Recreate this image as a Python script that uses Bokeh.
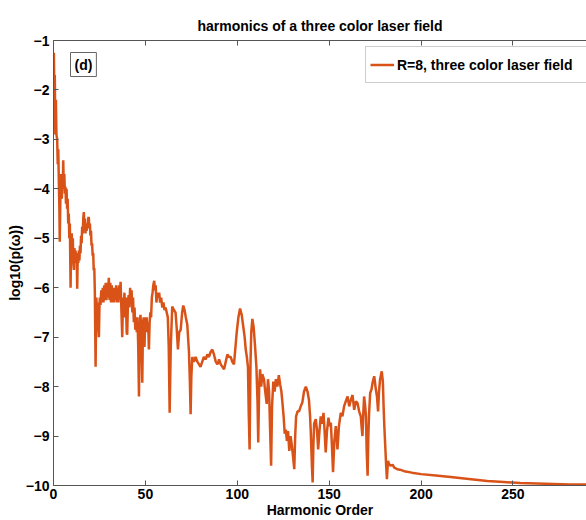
from bokeh.plotting import figure
from bokeh.models import FixedTicker, LinearAxis, Range1d, Legend, LegendItem, Label
from bokeh.embed import file_html
from bokeh.resources import INLINE

harmonic_order = [
    0.0, 0.2, 0.5, 0.7, 1.0, 1.3, 1.6, 2.0, 2.3, 2.6, 2.9, 3.2, 3.4, 3.7, 4.0, 4.2, 4.5, 4.8,
    5.0, 5.3, 5.6, 5.9, 6.2, 6.5, 6.8, 7.1, 7.4, 7.7, 8.0, 8.3, 8.6, 8.9, 9.3, 9.6, 9.9,
    10.2, 10.5, 10.8, 11.1, 11.4, 11.7, 12.0, 12.3, 12.6, 12.9, 13.2, 13.5, 13.8, 14.1, 14.4,
    14.7, 15.0, 15.3, 15.6, 15.9, 16.2, 16.5, 16.8, 17.1, 17.4, 17.7, 18.0, 18.3, 18.6, 18.9,
    19.2, 19.5, 19.8, 20.1, 20.4, 20.7, 21.0, 21.3, 21.6, 21.9, 22.2, 22.5, 22.9, 23.3, 23.7,
    24.1, 24.4, 24.7, 25.0, 25.2, 25.6, 26.0, 26.4, 26.8, 27.2, 27.6, 28.0, 28.4, 28.8, 29.2,
    29.6, 30.1, 30.5, 30.9, 31.3, 31.7, 32.1, 32.5, 32.9, 33.3, 33.7, 34.1, 34.5, 34.9, 35.3,
    35.7, 36.1, 36.5, 36.9, 37.4, 37.8, 38.2, 38.6, 39.0, 39.4, 39.8, 40.1, 40.5, 40.9, 41.3,
    41.7, 42.1, 42.5, 42.9, 43.3, 43.7, 44.1, 44.5, 44.9, 45.3, 45.7, 46.1, 46.5, 46.9, 47.3,
    47.7, 48.0, 48.3, 48.7, 49.1, 49.5, 49.9, 50.3, 50.7, 51.1, 51.5, 51.9, 52.3, 52.7, 53.1,
    53.5, 53.9, 54.3, 54.8, 55.2, 55.6, 56.0, 56.5, 57.0, 57.5, 58.0, 58.6, 59.2, 59.8, 60.4,
    61.0, 61.6, 62.2, 62.7, 63.2, 63.8, 64.6, 65.5, 66.4, 67.0, 67.7, 68.4, 69.2, 70.0, 70.6,
    71.3, 72.0, 72.8, 73.7, 74.2, 74.6, 75.0, 75.5, 76.4, 77.3, 78.3, 79.2, 80.0, 80.9, 81.8,
    82.8, 83.7, 84.6, 85.5, 86.4, 87.3, 88.3, 89.2, 90.1, 91.0, 91.9, 92.8, 93.7, 94.6, 95.5,
    96.4, 97.3, 98.2, 99.0, 99.7, 100.6, 101.5, 102.4, 103.3, 104.0, 104.6, 105.2, 105.8,
    106.2, 106.7, 107.2, 107.6, 108.2, 108.9, 109.7, 110.4, 111.0, 111.4, 111.9, 112.4, 113.0,
    113.6, 114.5, 115.2, 116.0, 116.7, 117.3, 117.8, 118.4, 118.9, 119.6, 120.3, 121.0, 121.8,
    122.6, 123.3, 124.0, 124.5, 125.2, 125.8, 126.4, 127.0, 127.6, 128.3, 129.0, 129.7, 130.3,
    131.0, 131.5, 132.0, 132.8, 133.6, 134.5, 135.4, 136.3, 137.3, 138.2, 139.0, 139.6, 140.0,
    140.6, 141.0, 141.4, 141.8, 142.7, 143.4, 144.0, 144.7, 145.4, 146.2, 146.9, 147.5, 148.1,
    148.8, 149.6, 150.3, 150.9, 151.5, 152.1, 152.8, 153.6, 154.0, 154.5, 155.3, 156.3, 157.2,
    158.1, 159.0, 160.0, 160.9, 161.8, 162.7, 163.6, 164.5, 165.4, 166.3, 167.2, 167.6, 168.1,
    168.6, 169.0, 169.6, 170.0, 170.4, 170.9, 171.3, 171.7, 172.3, 173.0, 173.6, 174.5, 175.4,
    176.0, 176.6, 177.1, 177.7, 178.6, 179.2, 179.6, 180.0, 180.5, 181.0, 181.4, 182.0, 182.6,
    183.5, 184.5, 185.4, 187.0, 188.5, 190.8, 195.0, 200.0, 208.0, 216.0, 226.0, 236.0, 245.0,
    254.0, 263.0, 272.0, 281.0, 290.0,
]

log10_power = [
    -1.30, -1.25, -2.20, -1.70, -2.90, -2.20, -2.90, -3.00, -3.50, -3.20, -3.85, -4.40, -5.07,
    -4.30, -3.80, -3.70, -4.20, -3.90, -4.00, -3.42, -4.00, -3.70, -4.10, -3.96, -4.30, -4.00,
    -4.40, -4.20, -4.70, -4.50, -5.00, -4.70, -6.00, -5.00, -4.90, -5.30, -5.00, -5.50, -5.64,
    -5.20, -5.45, -5.25, -5.50, -5.30, -6.02, -5.30, -5.50, -5.25, -5.45, -5.15, -5.30, -4.95,
    -5.10, -4.77, -4.90, -4.60, -4.47, -4.75, -4.60, -4.90, -4.70, -4.85, -4.70, -4.80, -4.60,
    -4.57, -4.80, -4.70, -4.95, -4.85, -5.15, -5.10, -5.35, -5.30, -5.65, -5.60, -6.10, -7.60,
    -6.20, -6.50, -6.30, -6.80, -7.00, -6.40, -6.20, -6.35, -6.05, -6.30, -6.00, -6.30, -5.95,
    -6.25, -5.90, -6.25, -5.90, -6.20, -5.80, -6.25, -5.90, -6.30, -5.95, -6.30, -6.00, -6.30,
    -6.00, -6.25, -5.95, -6.30, -6.00, -6.30, -5.95, -6.20, -5.88, -6.40, -7.00, -6.20, -6.45,
    -6.10, -6.60, -6.20, -6.90, -6.95, -6.30, -6.15, -6.40, -6.00, -6.30, -6.05, -6.50, -6.20,
    -6.70, -6.40, -6.85, -6.60, -6.90, -6.60, -7.20, -8.20, -6.90, -6.55, -6.80, -7.30, -7.92,
    -6.70, -6.60, -7.20, -6.60, -6.90, -6.60, -6.90, -6.70, -7.25, -6.70, -6.50, -6.60, -6.20,
    -6.10, -5.95, -5.86, -6.05, -5.95, -6.30, -6.10, -6.20, -6.10, -6.30, -6.20, -6.40, -6.30,
    -6.45, -6.40, -6.50, -6.60, -7.20, -8.53, -7.20, -6.38, -6.45, -6.50, -6.80, -7.25, -6.90,
    -6.85, -6.50, -6.36, -6.45, -6.60, -6.75, -7.30, -7.90, -8.56, -7.80, -7.40, -7.50, -7.40,
    -7.50, -7.55, -7.60, -7.50, -7.40, -7.45, -7.35, -7.40, -7.30, -7.25, -7.35, -7.50, -7.55,
    -7.45, -7.55, -7.60, -7.65, -7.50, -7.35, -7.40, -7.40, -7.50, -7.55, -7.20, -6.90, -6.60,
    -6.42, -6.55, -6.80, -7.00, -7.25, -7.40, -7.60, -8.50, -9.27, -7.50, -6.90, -6.63, -6.80,
    -7.20, -7.60, -8.30, -9.13, -8.00, -7.65, -8.00, -7.75, -7.85, -8.10, -8.35, -7.85, -8.10,
    -8.80, -9.60, -8.40, -7.90, -8.10, -7.85, -8.00, -7.77, -7.95, -8.10, -8.30, -8.60, -8.95,
    -8.87, -9.10, -8.90, -9.30, -9.00, -9.20, -9.40, -9.67, -9.00, -8.60, -8.50, -8.50, -8.40,
    -8.32, -8.10, -8.00, -8.10, -8.27, -8.60, -8.93, -9.60, -9.94, -9.20, -8.75, -8.66, -8.90,
    -9.27, -8.90, -8.60, -8.75, -8.53, -8.90, -9.33, -8.90, -8.63, -8.80, -8.73, -9.20, -9.73,
    -9.10, -8.80, -9.00, -9.27, -8.80, -8.53, -8.60, -8.40, -8.30, -8.20, -8.40, -8.27, -8.17,
    -8.47, -8.30, -8.33, -8.50, -8.60, -8.80, -9.00, -8.50, -8.20, -8.40, -8.60, -9.30, -9.80,
    -9.00, -8.55, -8.13, -8.06, -7.92, -7.79, -8.06, -8.20, -8.50, -8.10, -7.85, -7.69, -7.90,
    -8.40, -8.80, -9.20, -9.60, -9.87, -9.50, -9.57, -9.60, -9.58, -9.64, -9.67, -9.68, -9.71,
    -9.74, -9.77, -9.80, -9.83, -9.87, -9.91, -9.93, -9.95, -9.96, -9.97, -9.98, -9.98,
]

x_ticks = [0, 50, 100, 150, 200, 250]
y_ticks = [-1, -2, -3, -4, -5, -6, -7, -8, -9, -10]

FONT = "Liberation Sans"
AX = "#555555"

p = figure(width=586, height=520, output_backend="svg", toolbar_location=None,
           x_range=Range1d(0, 290), y_range=Range1d(-10, -1),
           min_border_left=53, min_border_right=0, min_border_top=40, min_border_bottom=34)
p.outline_line_color = None
p.xgrid.visible = False
p.ygrid.visible = False
p.background_fill_color = "white"

p.title.text = "harmonics of a three color laser field"
p.title.align = "center"
p.title.text_font = FONT
p.title.text_font_size = "14px"
p.title.text_font_style = "bold"
p.title.text_color = "black"
p.title.standoff = 13

for ax in (p.xaxis[0], p.yaxis[0]):
    ax.major_tick_in = 5
    ax.major_tick_out = 0
    ax.minor_tick_in = 0
    ax.minor_tick_out = 0
    ax.axis_line_color = AX
    ax.major_tick_line_color = AX
    ax.major_label_text_font = FONT
    ax.major_label_text_font_size = "14px"
    ax.major_label_text_font_style = "bold"
    ax.major_label_text_color = "black"
    ax.axis_label_text_font = FONT
    ax.axis_label_text_font_size = "14px"
    ax.axis_label_text_font_style = "bold"
    ax.axis_label_text_color = "black"

p.xaxis[0].ticker = FixedTicker(ticks=x_ticks)
p.yaxis[0].ticker = FixedTicker(ticks=y_ticks)
p.xaxis[0].axis_label = "Harmonic Order"
p.yaxis[0].axis_label = "log10(p(ω))"
p.xaxis[0].major_label_standoff = 3
p.xaxis[0].axis_label_standoff = 0
p.yaxis[0].major_label_standoff = 4
p.yaxis[0].axis_label_standoff = 0

top = LinearAxis(ticker=FixedTicker(ticks=x_ticks), major_label_text_color=None,
                 major_tick_in=5, major_tick_out=0, minor_tick_in=0, minor_tick_out=0,
                 axis_line_color=AX, major_tick_line_color=AX, major_label_standoff=0)
p.add_layout(top, "above")

r = p.line(harmonic_order, log10_power, line_color="#D95319", line_width=2.5)

legend = Legend(items=[LegendItem(label="R=8, three color laser field", renderers=[r])],
                location=(312, 402))
legend.border_line_color = "#9a9a9a"
legend.background_fill_color = "white"
legend.background_fill_alpha = 1
legend.label_text_font = FONT
legend.label_text_font_size = "14px"
legend.label_text_font_style = "bold"
legend.label_text_color = "black"
legend.glyph_width = 24
legend.glyph_height = 27
legend.label_height = 27
legend.label_width = 210
legend.label_standoff = 3
legend.padding = 4
legend.margin = 0
legend.spacing = 0
p.add_layout(legend)

lbl = Label(x=17, y=433, x_units="screen", y_units="screen", text="(d)", anchor="top_left",
            text_font=FONT, text_font_size="14px", text_font_style="bold", text_color="black",
            border_line_color="#666666", background_fill_color="white", padding=4)
p.add_layout(lbl)

open("out.html", "w").write(file_html(p, INLINE))
